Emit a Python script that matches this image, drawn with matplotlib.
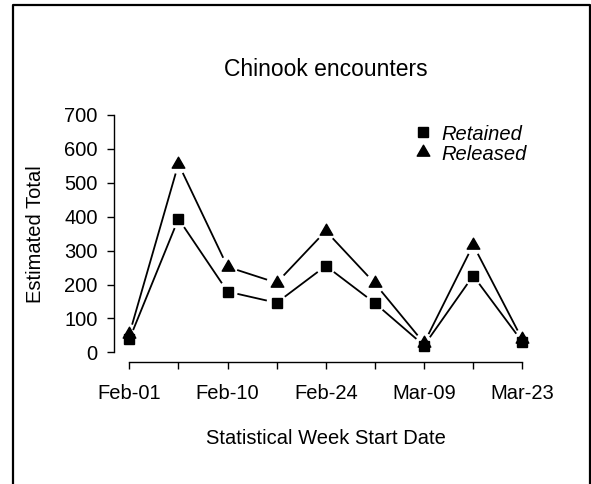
import numpy as np
import matplotlib
matplotlib.use("Agg")
import matplotlib.pyplot as plt
from matplotlib.path import Path
from matplotlib.lines import Line2D

plt.rcParams['font.family'] = ['Liberation Sans', 'DejaVu Sans']

# data
weeks = [1, 2, 3, 4, 5, 6, 7, 8, 9]
week_labels = ["Feb-01", "", "Feb-10", "", "Feb-24", "", "Mar-09", "", "Mar-23"]
retained = [38, 394, 179, 146, 255, 145, 20, 226, 31]
released = [53, 556, 252, 205, 358, 203, 27, 317, 38]

W, H = 591, 484
fig = plt.figure(figsize=(W / 100, H / 100), dpi=100)
# plot region in pixels (left, top, right, bottom), R-style 4% padding
l, t, r, b = 113.6, 105.5, 538.0, 361.8
ax = fig.add_axes([l / W, 1 - b / H, (r - l) / W, (b - t) / H])
ax.set_xlim(1 - 0.32, 9 + 0.32)
ax.set_ylim(-28, 728)

# triangle with centroid at origin, like R pch=17
tri = Path([(0, 1), (-0.866, -0.5), (0.866, -0.5), (0, 1)],
           [Path.MOVETO, Path.LINETO, Path.LINETO, Path.CLOSEPOLY])


def gapped_line(x, y, gap=11, **kw):
    # R type="b": segments stop short of each point
    pts = ax.transData.transform(np.column_stack([x, y]))
    inv = ax.transData.inverted()
    for p0, p1 in zip(pts[:-1], pts[1:]):
        d = p1 - p0
        L = np.hypot(*d)
        if L <= 2 * gap:
            continue
        a = inv.transform(p0 + d / L * gap)
        c = inv.transform(p1 - d / L * gap)
        ax.plot([a[0], c[0]], [a[1], c[1]], **kw)


gapped_line(weeks, retained, color="black", lw=1.3)
gapped_line(weeks, released, color="black", lw=1.3)
ax.plot(weeks, retained, ls="none", marker="s", ms=7.2, color="black", label="Retained")
ax.plot(weeks, released, ls="none", marker=tri, ms=10.5, color="black", label="Released")

for s in ["top", "right"]:
    ax.spines[s].set_visible(False)
ax.spines["left"].set_bounds(0, 700)
ax.spines["bottom"].set_bounds(1, 9)
for s in ["left", "bottom"]:
    ax.spines[s].set_linewidth(1.0)

ax.set_yticks(range(0, 701, 100))
ax.set_xticks(weeks)
ax.set_xticklabels(week_labels)
ax.tick_params(axis="both", labelsize=14.5, length=5, width=1.0, direction="out")
ax.tick_params(axis="y", pad=6.5)
ax.tick_params(axis="x", pad=11)

ax.set_ylabel("Estimated Total", fontsize=14.5, labelpad=13.5)
ax.set_xlabel("Statistical Week Start Date", fontsize=14.5, labelpad=18.5)
ax.set_title("Chinook encounters", fontsize=16.5, pad=21)

ax.legend(loc="upper left", bbox_to_anchor=(413 / W, 1 - 124.5 / H),
          bbox_transform=fig.transFigure, frameon=False, borderpad=0,
          handlelength=1.0, handletextpad=0.4, labelspacing=0.05,
          borderaxespad=0, prop={"size": 14.5, "style": "italic"})

# outer frame (left, top, right edges)
fig.add_artist(Line2D([13 / W, 13 / W, 590 / W, 590 / W], [0, 1 - 5 / H, 1 - 5 / H, 0],
                      transform=fig.transFigure, color="black", lw=1.6))

fig.savefig("out.png", dpi=100)
